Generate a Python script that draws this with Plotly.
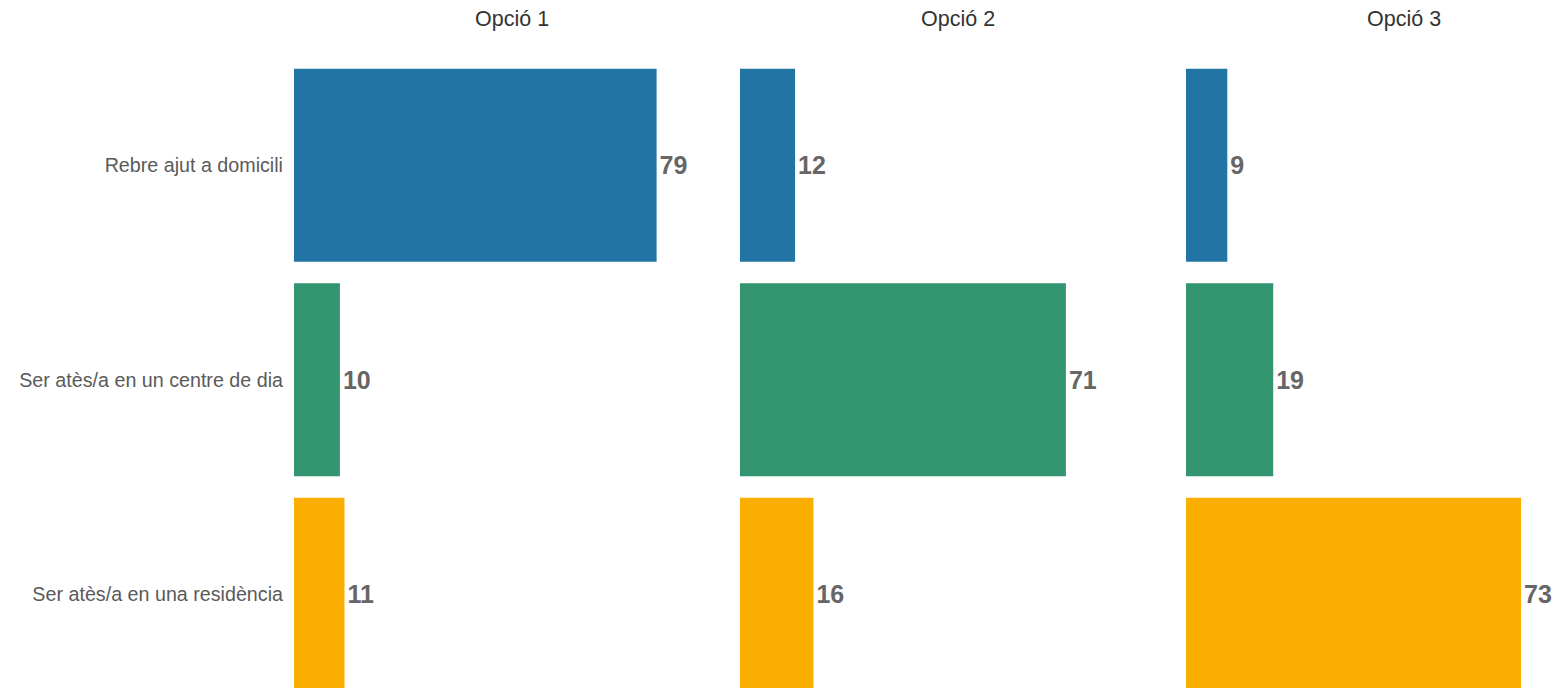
import plotly.graph_objects as go

categories = ["Rebre ajut a domicili", "Ser atès/a en un centre de dia", "Ser atès/a en una residència"]
panels = ["Opció 1", "Opció 2", "Opció 3"]
opcio1 = [79, 10, 11]
opcio2 = [12, 71, 16]
opcio3 = [9, 19, 73]
values = [opcio1, opcio2, opcio3]
colors = ["#2274A5", "#33956F", "#F9AE00"]

OFF = 8  # page offset of the figure in the browser
W, H = 1568, 688
L = 294 - OFF
px_per_unit = 4.59
panel_starts = [294 - OFF, 740 - OFF, 1186 - OFF]
panel_width = 436
FONT = "Liberation Sans, Arial"

fig = go.Figure()
for i, (name, vals) in enumerate(zip(panels, values)):
    ax = "" if i == 0 else str(i + 1)
    fig.add_trace(go.Bar(
        x=vals, y=[0, 1, 2], orientation="h",
        marker=dict(color=colors, line=dict(width=0)),
        text=[str(v) for v in vals], textposition="outside",
        textfont=dict(family=FONT, size=25, color="#666666", weight="bold"),
        cliponaxis=False, width=0.9,
        xaxis="x" + ax, yaxis="y", showlegend=False, hoverinfo="skip",
    ))

plot_w = W - L
for i in range(3):
    start = panel_starts[i]
    end = min(start + panel_width, W)
    d0 = (start - L) / plot_w
    d1 = (end - L) / plot_w
    rng = [0, (end - start) / px_per_unit]
    key = "xaxis" if i == 0 else f"xaxis{i+1}"
    fig.layout[key] = dict(domain=[d0, d1], range=rng, showgrid=False, zeroline=False,
                           showticklabels=False, showline=False, anchor="y")

top_px = 58 - OFF
span_units = (H - top_px) / 214.5
fig.update_layout(
    yaxis=dict(range=[-0.5 + span_units, -0.5], tickmode="array", tickvals=[0, 1, 2],
               ticktext=categories, showgrid=False, zeroline=False, showline=False,
               ticks="", ticklabelstandoff=10,
               tickfont=dict(family=FONT, size=19.7, color="#5a5a5a")),
    width=W, height=H,
    margin=dict(l=L, r=0, t=top_px, b=0, autoexpand=False),
    plot_bgcolor="white", paper_bgcolor="white",
    bargap=0.1,
)
for i in range(3):
    cx = panel_starts[i] + panel_width / 2
    fig.add_annotation(x=(cx - L) / plot_w, y=1 + (top_px - (19 - OFF)) / (H - top_px),
                       xref="paper", yref="paper", text=panels[i], showarrow=False,
                       font=dict(family=FONT, size=21.5, color="#333333"),
                       xanchor="center", yanchor="middle")

fig.write_html("out.html")
